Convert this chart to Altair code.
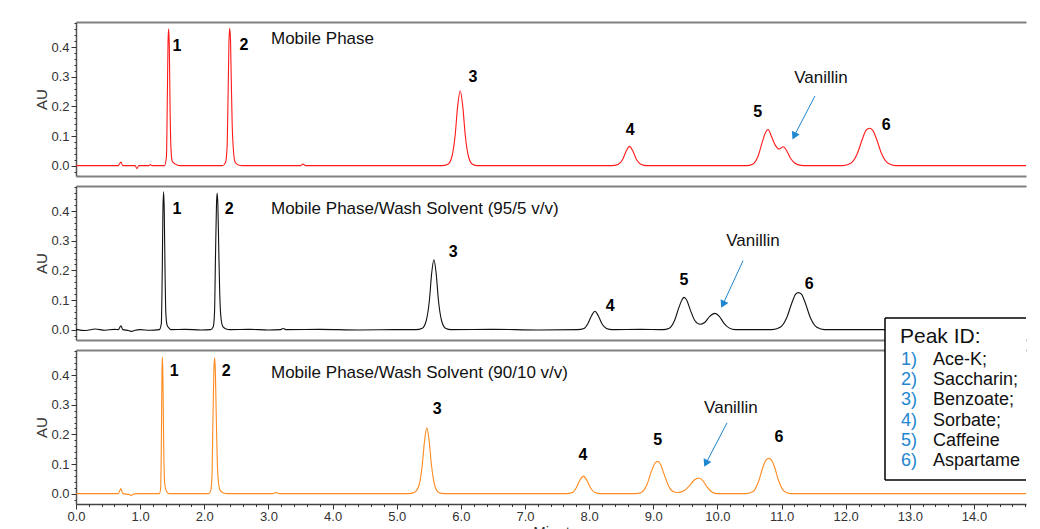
import altair as alt
import pandas as pd

FONT = "Liberation Sans"
BLUE = "#1f86d0"

# ---------------- chromatogram traces (minutes, AU) ----------------
red_t = [0, 0.66, 0.70, 0.73, 0.92, 0.95, 0.98, 1.14, 1.16, 1.18, 1.38, 1.41, 1.425, 1.435, 1.445,
         1.455, 1.465, 1.48, 1.50, 1.55, 1.62, 2.28, 2.33, 2.355, 2.372, 2.385, 2.396, 2.408, 2.42,
         2.435, 2.455, 2.48, 2.53, 2.60, 3.50, 3.54, 3.58, 5.70, 5.80, 5.86, 5.91, 5.95, 5.99, 6.03,
         6.07, 6.12, 6.18, 6.26, 8.35, 8.45, 8.52, 8.58, 8.63, 8.68, 8.74, 8.81, 8.90, 10.45, 10.55,
         10.63, 10.70, 10.75, 10.79, 10.84, 10.90, 10.96, 11.03, 11.08, 11.14, 11.21, 11.30, 11.40,
         11.95, 12.08, 12.18, 12.26, 12.32, 12.37, 12.42, 12.48, 12.56, 12.66, 12.78, 14.811]
red_v = [0, 0, 0.012, 0, 0, -0.01, 0, 0, 0.004, 0, 0, 0.03, 0.25, 0.42, 0.462,
         0.40, 0.22, 0.06, 0.015, 0.005, 0, 0, 0.01, 0.06, 0.25, 0.42, 0.464, 0.43, 0.30,
         0.14, 0.05, 0.012, 0.002, 0, 0, 0.005, 0, 0, 0.005, 0.03, 0.10, 0.20, 0.253, 0.20,
         0.10, 0.03, 0.005, 0, 0, 0.004, 0.02, 0.05, 0.065, 0.05, 0.02, 0.004, 0, 0, 0.005,
         0.03, 0.08, 0.112, 0.122, 0.10, 0.07, 0.056, 0.064, 0.05, 0.025, 0.008, 0.001, 0,
         0, 0.008, 0.04, 0.09, 0.12, 0.126, 0.12, 0.09, 0.04, 0.008, 0, 0]

black_t = [0, 0.15, 0.30, 0.45, 0.60, 0.66, 0.70, 0.73, 0.82, 0.87, 0.92, 1.00, 1.15, 1.30, 1.33,
           1.345, 1.355, 1.366, 1.376, 1.388, 1.40, 1.42, 1.45, 1.48, 1.70, 1.95, 2.10, 2.14, 2.16,
           2.175, 2.19, 2.20, 2.212, 2.225, 2.24, 2.26, 2.29, 2.34, 2.40, 2.70, 3.00, 3.19, 3.23,
           3.27, 3.80, 4.40, 5.00, 5.30, 5.40, 5.46, 5.51, 5.545, 5.58, 5.615, 5.65, 5.70, 5.76,
           5.85, 6.50, 7.20, 7.82, 7.92, 7.98, 8.04, 8.09, 8.14, 8.20, 8.27, 8.36, 8.80, 9.15,
           9.25, 9.33, 9.40, 9.45, 9.48, 9.52, 9.58, 9.65, 9.73, 9.80, 9.88, 9.96, 10.03, 10.10,
           10.18, 10.28, 10.85, 10.98, 11.08, 11.16, 11.22, 11.26, 11.31, 11.37, 11.45, 11.55,
           11.67, 14.811]
black_v = [0.001, -0.003, 0.002, -0.002, 0.001, 0, 0.013, 0, -0.003, -0.006, -0.002, 0, -0.002, 0, 0.02,
           0.20, 0.40, 0.465, 0.40, 0.20, 0.06, 0.015, 0.005, 0, 0.001, -0.001, 0, 0.01, 0.06,
           0.25, 0.42, 0.461, 0.42, 0.28, 0.13, 0.04, 0.01, 0.002, 0, 0.001, -0.001, 0, 0.004,
           0, 0.001, -0.001, 0, 0, 0.005, 0.03, 0.10, 0.19, 0.236, 0.19, 0.10, 0.03, 0.005,
           0, 0.001, -0.001, 0, 0.004, 0.02, 0.048, 0.062, 0.048, 0.02, 0.004, 0, 0.001, 0,
           0.005, 0.03, 0.075, 0.102, 0.109, 0.10, 0.065, 0.03, 0.018, 0.024, 0.045, 0.055, 0.045, 0.022,
           0.006, 0, 0, 0.008, 0.04, 0.09, 0.12, 0.125, 0.12, 0.09, 0.04, 0.008,
           0, 0]

orange_t = [0, 0.66, 0.70, 0.73, 0.83, 0.86, 0.89, 0.95, 1.28, 1.30, 1.32, 1.332, 1.34, 1.346, 1.353,
            1.36, 1.37, 1.385, 1.41, 1.45, 2.07, 2.10, 2.12, 2.135, 2.15, 2.16, 2.172, 2.185, 2.20,
            2.22, 2.25, 2.30, 2.36, 3.07, 3.12, 3.17, 5.18, 5.28, 5.35, 5.40, 5.435, 5.47, 5.505,
            5.54, 5.59, 5.65, 5.74, 7.65, 7.74, 7.80, 7.86, 7.91, 7.96, 8.02, 8.09, 8.18, 8.72,
            8.82, 8.90, 8.97, 9.03, 9.07, 9.11, 9.17, 9.24, 9.31, 9.38, 9.48, 9.56, 9.64, 9.71,
            9.77, 9.84, 9.92, 10.00, 10.45, 10.56, 10.64, 10.71, 10.76, 10.80, 10.84, 10.89, 10.96,
            11.04, 11.14, 14.811]
orange_v = [0, 0, 0.017, 0, -0.003, -0.006, -0.002, 0, 0, 0, 0.02, 0.20, 0.40, 0.461, 0.42,
            0.30, 0.12, 0.03, 0.008, 0, 0, 0.01, 0.06, 0.25, 0.42, 0.459, 0.42, 0.28, 0.13,
            0.04, 0.01, 0.002, 0, 0, 0.004, 0, 0, 0.005, 0.03, 0.10, 0.18, 0.222, 0.18,
            0.10, 0.03, 0.005, 0, 0, 0.004, 0.02, 0.047, 0.059, 0.047, 0.02, 0.004, 0, 0,
            0.005, 0.03, 0.075, 0.104, 0.109, 0.10, 0.065, 0.025, 0.007, 0.004, 0.01, 0.025, 0.046, 0.053,
            0.045, 0.022, 0.005, 0, 0, 0.008, 0.04, 0.09, 0.114, 0.119, 0.114, 0.09, 0.04,
            0.008, 0, 0]

# ---------------- annotations ----------------
panel_titles = ["Mobile Phase",
                "Mobile Phase/Wash Solvent (95/5 v/v)",
                "Mobile Phase/Wash Solvent (90/10 v/v)"]
title_t = [3.04, 3.04, 3.04]
title_v = [0.428, 0.408, 0.406]

peak_nums = ["1", "2", "3", "4", "5", "6"]
peak_lab_t = [[1.575, 2.62, 6.19, 8.64, 10.63, 12.63],
              [1.575, 2.39, 5.88, 8.33, 9.48, 11.43],
              [1.53, 2.34, 5.63, 7.905, 9.07, 10.96]]
peak_lab_v = [[0.403, 0.406, 0.298, 0.12, 0.181, 0.1375],
              [0.408, 0.408, 0.263, 0.081, 0.169, 0.155],
              [0.414, 0.414, 0.286, 0.132, 0.182, 0.192]]

vanillin_t = [11.615, 10.555, 10.21]
vanillin_v = [0.296, 0.30, 0.289]
arrow_t1 = [11.52, 10.40, 10.15]
arrow_v1 = [0.235, 0.233, 0.239]
arrow_t2 = [11.196, 10.085, 9.82]
arrow_v2 = [0.10, 0.085, 0.102]

legend_nums = ["1)", "2)", "3)", "4)", "5)", "6)"]
legend_names = ["Ace-K;", "Saccharin;", "Benzoate;", "Sorbate;", "Caffeine", "Aspartame"]

x_major = [float(i) for i in range(15)]
x_minor = [round(i * 0.2, 1) for i in range(75)]
y_major = [0.0, 0.1, 0.2, 0.3, 0.4]
y_minor = [round(-0.02 + i * 0.02, 2) for i in range(26)]

W, H = 950, 154
XDOM = [0, 14.811]
YDOM = [-0.035, 0.485]
FRAME = "#808080"


def panel(t, v, color, idx, bottom):
    xs = alt.Scale(domain=XDOM, nice=False, zero=False)
    ys = alt.Scale(domain=YDOM, nice=False, zero=False)

    def X(f):
        return alt.X(f, type="quantitative", scale=xs, axis=None)

    def Y(f):
        return alt.Y(f, type="quantitative", scale=ys, axis=None)

    line_df = pd.DataFrame({"t": t, "v": v})
    if bottom:
        xaxis = alt.Axis(values=x_major, format=".1f", tickSize=5, title="Minutes", grid=False,
                         labelPadding=1, labelFlush=False, domainColor="#444", domainWidth=1.5,
                         titlePadding=1, titleX=483, titleFontSize=15, orient="bottom")
        xminor = alt.Axis(values=x_minor, labels=False, tickSize=2.5, domain=False, title=None,
                          grid=False, orient="bottom")
    else:
        xaxis = None
        xminor = alt.Axis(ticks=False, labels=False, domain=True, title=None, grid=False,
                          domainColor=FRAME, domainWidth=2, orient="bottom")
    xtop = alt.Axis(ticks=False, labels=False, domain=True, title=None, grid=False,
                    domainColor=FRAME, domainWidth=2, orient="top")
    yaxis = alt.Axis(values=y_major, format=".1f", tickSize=5, title="AU", grid=False,
                     labelPadding=2, titlePadding=1, domainColor="#555", domainWidth=1.5,
                     orient="left")
    yminor = alt.Axis(values=y_minor, labels=False, tickSize=2, domain=False, title=None,
                      grid=False, orient="left")

    line = alt.Chart(line_df).mark_line(color=color, strokeWidth=1.1, interpolate="monotone").encode(
        x=alt.X("t:Q", scale=xs, axis=xaxis),
        y=alt.Y("v:Q", scale=ys, axis=yaxis),
    )
    minor = alt.Chart(line_df.head(1)).mark_point(opacity=0).encode(
        x=alt.X("t:Q", scale=xs, axis=xminor),
        y=alt.Y("v:Q", scale=ys, axis=yminor),
    )
    frame = alt.Chart(line_df.head(1)).mark_point(opacity=0).encode(
        x=alt.X("t:Q", scale=xs, axis=xtop),
        y=Y("v"),
    )
    nums_df = pd.DataFrame({"t": peak_lab_t[idx], "v": peak_lab_v[idx], "lab": peak_nums})
    nums = alt.Chart(nums_df).mark_text(font=FONT, fontSize=16, fontWeight="bold", color="#000",
                                        align="center", baseline="middle").encode(
        x=X("t"), y=Y("v"), text="lab:N")
    ttl_df = pd.DataFrame({"t": [title_t[idx]], "v": [title_v[idx]], "lab": [panel_titles[idx]]})
    ttl = alt.Chart(ttl_df).mark_text(font=FONT, fontSize=17, color="#111",
                                      align="left", baseline="middle").encode(
        x=X("t"), y=Y("v"), text="lab:N")
    van_df = pd.DataFrame({"t": [vanillin_t[idx]], "v": [vanillin_v[idx]], "lab": ["Vanillin"]})
    van = alt.Chart(van_df).mark_text(font=FONT, fontSize=17, color="#111",
                                      align="center", baseline="middle").encode(
        x=X("t"), y=Y("v"), text="lab:N")
    arr_df = pd.DataFrame({"t": [arrow_t1[idx]], "v": [arrow_v1[idx]],
                           "t2": [arrow_t2[idx]], "v2": [arrow_v2[idx]]})
    shaft = alt.Chart(arr_df).mark_rule(color=BLUE, strokeWidth=1).encode(
        x=X("t"), y=Y("v"), x2="t2:Q", y2="v2:Q")
    head = alt.Chart(arr_df).mark_point(shape="triangle-up", filled=True, size=75, angle=206,
                                        color=BLUE, opacity=1).encode(
        x=X("t2"), y=Y("v2"))
    layers = [line, minor, frame, nums, ttl, van, shaft, head]
    if bottom:
        one = pd.DataFrame({"a": [0]})
        box = alt.Chart(one).mark_rect(fill="white", strokeWidth=0).encode(
            x=alt.value(809), x2=alt.value(W), y=alt.value(-32), y2=alt.value(130))
        b_top = alt.Chart(one).mark_rule(color="#000", strokeWidth=1.5).encode(
            x=alt.value(809), x2=alt.value(W), y=alt.value(-32))
        b_bot = alt.Chart(one).mark_rule(color="#000", strokeWidth=1.5).encode(
            x=alt.value(809), x2=alt.value(W), y=alt.value(130))
        b_left = alt.Chart(one).mark_rule(color="#000", strokeWidth=1.5).encode(
            x=alt.value(809), y=alt.value(-32), y2=alt.value(130))
        head_txt = alt.Chart(one).mark_text(text="Peak ID:", font=FONT, fontSize=21, color="#111",
                                            align="left", baseline="alphabetic").encode(
            x=alt.value(824), y=alt.value(-7))
        ntxt = alt.Chart(one).mark_text(text=legend_nums, font=FONT, fontSize=18, color=BLUE,
                                        align="left", baseline="alphabetic", lineHeight=20.2).encode(
            x=alt.value(825), y=alt.value(15))
        mtxt = alt.Chart(one).mark_text(text=legend_names, font=FONT, fontSize=18, color="#111",
                                        align="left", baseline="alphabetic", lineHeight=20.2).encode(
            x=alt.value(857), y=alt.value(15))
        layers += [box, b_top, b_bot, b_left, head_txt, ntxt, mtxt]
    return alt.layer(*layers).resolve_axis(x="independent", y="independent").properties(
        width=W, height=H)


chart = alt.vconcat(
    panel(red_t, red_v, "#ff1a1a", 0, False),
    panel(black_t, black_v, "#111111", 1, False),
    panel(orange_t, orange_v, "#ff8a1f", 2, True),
    spacing=10,
    bounds="flush",
).properties(
    padding={"left": 26, "top": 14, "right": 0, "bottom": 0}
).configure_view(
    stroke=None
).configure_axis(
    labelFont=FONT, labelFontSize=13, labelColor="#333", titleFont=FONT, titleFontSize=15,
    titleColor="#333", titleFontWeight="normal", tickColor="#333"
)

chart.save("out.html", embed_options={"renderer": "svg", "actions": False})
